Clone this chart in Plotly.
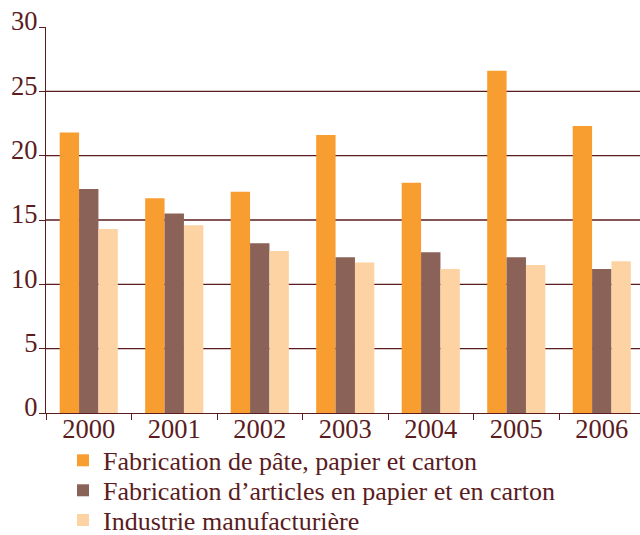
import plotly.graph_objects as go

years = ["2000", "2001", "2002", "2003", "2004", "2005", "2006"]
pate_papier = [21.8, 16.7, 17.2, 21.6, 17.9, 26.6, 22.3]
articles_papier = [17.4, 15.5, 13.2, 12.1, 12.5, 12.1, 11.2]
industrie = [14.3, 14.6, 12.6, 11.7, 11.2, 11.5, 11.8]
series_names = [
    "Fabrication de pâte, papier et carton",
    "Fabrication d’articles en papier et en carton",
    "Industrie manufacturière",
]
y_ticks = [0, 5, 10, 15, 20, 25, 30]

colors = ["#F89E31", "#8B6257", "#FDD3A4"]
ink = "#5A1C1E"
FONT = "Liberation Serif"
FS = 26.5
LEG_FS = 26

legend_ids = ["legend", "legend2", "legend3"]
legend_y = [-0.1228, -0.2005, -0.2775]

fig = go.Figure()
for name, vals, c, lg in zip(series_names, [pate_papier, articles_papier, industrie], colors, legend_ids):
    fig.add_trace(go.Bar(x=years, y=vals, name=name, legend=lg,
                         marker=dict(color=c, line=dict(width=0))))

for v in y_ticks[1:-1]:
    fig.add_shape(type="line", xref="paper", yref="y", x0=0, x1=1, y0=v, y1=v,
                  line=dict(color=ink, width=1.3), layer="below")

legend_common = dict(x=0.0286, xanchor="left", yanchor="middle", orientation="v",
                     font=dict(family=FONT, size=LEG_FS, color=ink),
                     bgcolor="rgba(0,0,0,0)", borderwidth=0)

fig.update_layout(
    width=640, height=535,
    margin=dict(l=46, r=0, t=27, b=122, autoexpand=False),
    paper_bgcolor="white", plot_bgcolor="white",
    barmode="group", bargap=0.32, bargroupgap=0,
    font=dict(family=FONT, size=FS, color=ink),
    showlegend=True,
    legend=dict(y=legend_y[0], **legend_common),
    legend2=dict(y=legend_y[1], **legend_common),
    legend3=dict(y=legend_y[2], **legend_common),
    xaxis=dict(
        type="category", range=[-0.5, 6.447], automargin=False,
        showline=True, linecolor=ink, linewidth=1.3,
        ticks="outside", tickson="boundaries", ticklen=6, tickcolor=ink, tickwidth=1.3,
        showgrid=False, tickfont=dict(family=FONT, size=FS, color=ink),
        ticklabelstandoff=-8,
    ),
    yaxis=dict(
        range=[0, 30], tickvals=y_ticks, automargin=False,
        showline=True, linecolor=ink, linewidth=1.3,
        ticks="outside", ticklen=6, tickcolor=ink, tickwidth=1.3,
        showgrid=False, zeroline=False, tickfont=dict(family=FONT, size=FS, color=ink),
        ticklabelshift=-6, ticklabelstandoff=-4,
    ),
)

fig.write_html("out.html", post_script="document.body.style.margin='0';",
               config={"displayModeBar": False})
